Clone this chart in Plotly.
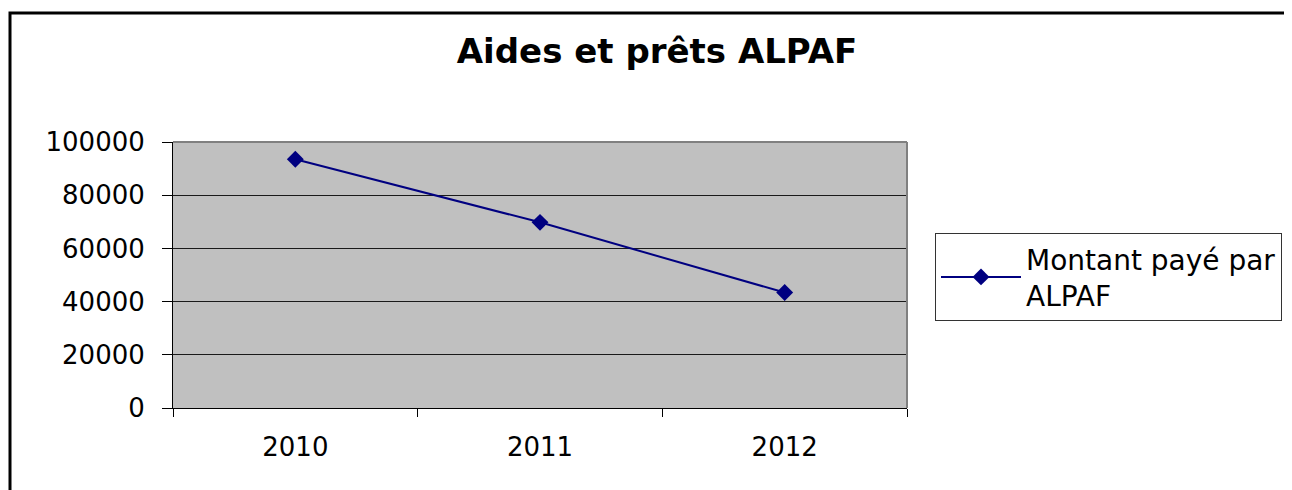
import plotly.graph_objects as go

years = ["2010", "2011", "2012"]
montant = [93500, 69800, 43400]
series_name = "Montant payé par<br>ALPAF"
title_text = "Aides et prêts ALPAF"

W, H = 1292, 490
OFF = 8  # page body margin offset
L, R, T, B = 173 - OFF, 907 - OFF, 142 - OFF, 408 - OFF
pw, ph = R - L, B - T

def px(x):
    return (x - OFF - L) / pw

def py(y):
    return (B - (y - OFF)) / ph

FONT = "DejaVu Sans"

fig = go.Figure()
fig.add_trace(go.Scatter(
    x=years, y=montant, mode="lines+markers", name=series_name,
    line=dict(color="#000080", width=2),
    marker=dict(symbol="diamond", size=13, color="#000080"),
))

fig.update_layout(
    width=W, height=H,
    margin=dict(l=L, r=W - R, t=T, b=H - B, autoexpand=False),
    paper_bgcolor="white",
    plot_bgcolor="#C0C0C0",
    font=dict(family=FONT, size=26, color="black"),
    title=dict(text="<b>" + title_text + "</b>", x=px(657), xref="paper", xanchor="center",
               y=1 - (51 - OFF) / H, yref="container", yanchor="middle",
               font=dict(family=FONT, size=34, color="black")),
    showlegend=True,
    legend=dict(x=px(935), y=py(233), xanchor="left", yanchor="top",
                bgcolor="white", bordercolor="#333333", borderwidth=1,
                font=dict(family=FONT, size=28), itemwidth=80),
    xaxis=dict(type="category", range=[-0.5, 2.5], showgrid=False, zeroline=False,
               showline=True, linecolor="black", linewidth=1,
               ticks="outside", tickson="boundaries", ticklen=8, tickcolor="black",
               ticklabelstandoff=16, tickfont=dict(size=26)),
    yaxis=dict(range=[0, 100000], dtick=20000, tickformat="d",
               showgrid=True, gridcolor="#1a1a1a", gridwidth=1,
               zeroline=False, showline=True, linecolor="black", linewidth=1,
               ticks="outside", ticklen=10, tickcolor="black", ticklabelstandoff=12,
               tickfont=dict(size=26)),
    shapes=[
        dict(type="line", xref="paper", yref="paper", x0=0, x1=1, y0=1, y1=1,
             line=dict(color="#808080", width=2), layer="above"),
        dict(type="line", xref="paper", yref="paper", x0=1, x1=1, y0=0, y1=1,
             line=dict(color="#808080", width=2), layer="above"),
        dict(type="rect", xref="paper", yref="paper",
             x0=px(10), x1=px(1310), y0=py(510), y1=py(13),
             line=dict(color="black", width=3), layer="below"),
    ],
)

fig.write_html("out.html")
